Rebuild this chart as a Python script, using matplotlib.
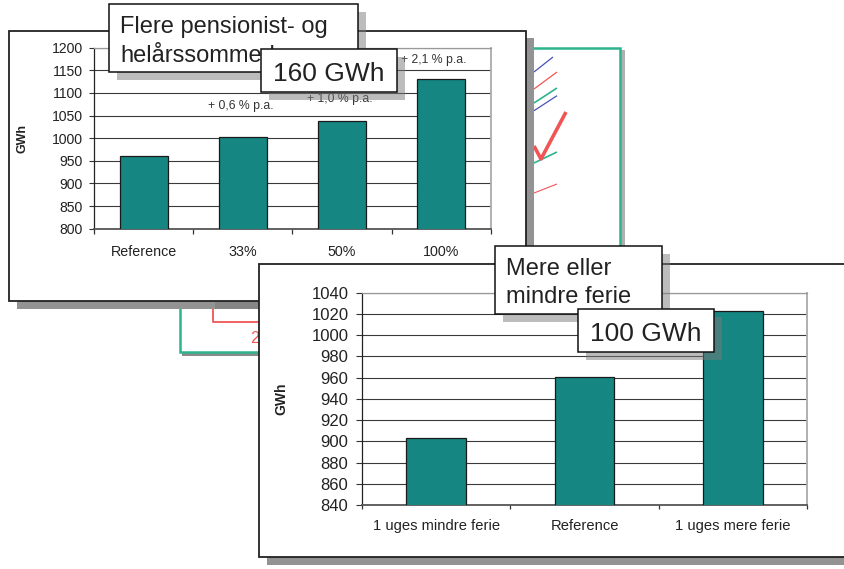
import matplotlib
matplotlib.use('Agg')
import matplotlib.pyplot as plt
from matplotlib.patches import Rectangle

plt.rcParams['font.family'] = ['Liberation Sans', 'DejaVu Sans']

# ---------------- data ----------------
top_categories = ['Reference', '33%', '50%', '100%']
top_values = [961, 1003, 1037, 1131]
top_yticks = [800, 850, 900, 950, 1000, 1050, 1100, 1150, 1200]
top_growth_labels = ['+ 0,6 % p.a.', '+ 1,0 % p.a.', '+ 2,1 % p.a.']
top_title_lines = ['Flere pensionist- og', 'helårssommerhuse']
top_callout = '160 GWh'

bottom_categories = ['1 uges mindre ferie', 'Reference', '1 uges mere ferie']
bottom_values = [903.5, 961, 1022.7]
bottom_yticks = [840, 860, 880, 900, 920, 940, 960, 980, 1000, 1020, 1040]
bottom_title_lines = ['Mere eller', 'mindre ferie']
bottom_callout = '100 GWh'

background_label = '2'

# ---------------- layout / style ----------------
W, H = 845, 569
TEAL = '#168682'
SLIDE_TEAL = '#2db38e'
RED = '#f05555'
BLUE = '#4a52b0'
SHADOW = '#939393'
TXT = '#222222'

fig = plt.figure(figsize=(W / 100, H / 100), dpi=100)


def frac(x0, y0, x1, y1):
    return [x0 / W, 1 - y1 / H, (x1 - x0) / W, (y1 - y0) / H]


def overlay(z):
    ax = fig.add_axes([0, 0, 1, 1], zorder=z)
    ax.set_xlim(0, W)
    ax.set_ylim(H, 0)
    ax.axis('off')
    return ax


def rect(ax, x0, y0, x1, y1, z=1, **kw):
    ax.add_patch(Rectangle((x0, y0), x1 - x0, y1 - y0, zorder=z, **kw))


def callout_box(ax, x0, y0, x1, y1, lines, baselines, xtext, fs, z):
    rect(ax, x0 + 8, y0 + 8, x1 + 8, y1 + 8, z=z, facecolor='#7a7a7a', alpha=0.5,
         edgecolor='none')
    rect(ax, x0, y0, x1, y1, z=z + 0.1, facecolor='white', edgecolor='#111111',
         linewidth=1.1)
    for s, yb in zip(lines, baselines):
        ax.text(xtext, yb, s, fontsize=fs, color=TXT, ha='left', va='baseline',
                zorder=z + 0.2)


# ---------- layer 0: background slide + top chart frame ----------
bg = overlay(0)
rect(bg, 621, 50, 625, 356, facecolor='#b0b0b0', edgecolor='none')
rect(bg, 182, 352, 625, 355.5, facecolor='#8a8a8a', edgecolor='none')
rect(bg, 180, 47.7, 620.5, 351.7, facecolor='white', edgecolor=SLIDE_TEAL, linewidth=1.8)
segs = [((534, 72), (553, 57), BLUE, 0.9),
        ((534, 89), (557, 72), RED, 0.9),
        ((534, 103), (557, 88), SLIDE_TEAL, 1.2),
        ((534, 110.7), (557, 95.7), BLUE, 0.9),
        ((534, 163), (557, 152), SLIDE_TEAL, 1.2),
        ((534, 193), (557, 184), RED, 0.8)]
for (xa, ya), (xb, yb), c, lw in segs:
    bg.plot([xa, xb], [ya, yb], color=c, lw=lw, solid_capstyle='butt', zorder=2)
bg.plot([534, 541, 566], [146, 159, 112], color=RED, lw=2.6, solid_capstyle='butt', zorder=2)
bg.plot([213.3, 213.3, 260], [309, 322.3, 322.3], color=RED, lw=1.3, zorder=2)
bg.text(250, 343.3, background_label, fontsize=11.7, color=RED, ha='left', va='baseline',
        zorder=2)

rect(bg, 17, 38, 534, 309, z=5, facecolor=SHADOW, edgecolor='none')
rect(bg, 215, 300, 260, 308.5, z=5.1, facecolor='#858585', edgecolor='none')
rect(bg, 9.3, 30.5, 525.7, 300.5, z=5.2, facecolor='white', edgecolor='#222222',
     linewidth=1.3)

# ---------- layer 1: top chart ----------
ax1 = fig.add_axes(frac(94.3, 47.7, 490.7, 228.7), zorder=1)
ax1.patch.set_alpha(0)
x1 = list(range(len(top_categories)))
ax1.bar(x1, top_values, width=0.48, color=TEAL, edgecolor='#1a1a1a', linewidth=0.9, zorder=3)
ax1.set_xlim(-0.5, len(top_categories) - 0.5)
ax1.set_ylim(top_yticks[0], top_yticks[-1])
ax1.set_yticks(top_yticks)
ax1.set_yticklabels([str(v) for v in top_yticks], fontsize=10.1, color=TXT)
ax1.yaxis.grid(True, color='#3a3a3a', linewidth=0.8)
ax1.set_axisbelow(True)
ax1.set_xticks(x1)
ax1.set_xticklabels(top_categories, fontsize=10.3, color=TXT)
ax1.set_xticks([i - 0.5 for i in range(len(top_categories) + 1)], minor=True)
ax1.tick_params(axis='x', which='major', length=0, pad=11.5)
ax1.tick_params(axis='x', which='minor', length=3.6, width=0.9, color='#333333', direction='out')
ax1.tick_params(axis='y', length=3.4, width=0.8, pad=5, color='#333333')
ax1.spines['left'].set_color('#222222')
ax1.spines['left'].set_linewidth(0.9)
ax1.spines['bottom'].set_color('#555555')
ax1.spines['bottom'].set_linewidth(1.3)
ax1.spines['right'].set_color('#aaaaaa')
ax1.spines['right'].set_linewidth(1.3)
ax1.spines['top'].set_color('#999999')
ax1.spines['top'].set_linewidth(0.9)
ax1.set_ylabel('GWh', fontsize=9, fontweight='bold', color=TXT)
ax1.yaxis.set_label_coords(-0.165, 0.5)
growth_pos = [(0.98, 1071), (1.98, 1087), (2.93, 1173)]
for s, (gx, gy) in zip(top_growth_labels, growth_pos):
    ax1.text(gx, gy, s, fontsize=8.8, color='#333333', ha='center', va='center', zorder=4)

# ---------- layer 2: top callouts + bottom chart frame ----------
mid = overlay(2)
callout_box(mid, 109.5, 4, 358.5, 72, top_title_lines, [33, 62], 120, 17, z=1)
callout_box(mid, 260.7, 49.3, 396.7, 92.3, [top_callout], [80.7], 273.3, 19, z=2)
rect(mid, 267, 272, 860, 565, z=3, facecolor=SHADOW, edgecolor='none')
rect(mid, 259.5, 264.3, 870, 556.7, z=3.1, facecolor='white', edgecolor='#222222',
     linewidth=1.3)

# ---------- layer 3: bottom chart ----------
ax2 = fig.add_axes(frac(362, 292.7, 807, 505), zorder=3)
ax2.patch.set_alpha(0)
x2 = list(range(len(bottom_categories)))
ax2.bar(x2, bottom_values, width=0.40, color=TEAL, edgecolor='#1a1a1a', linewidth=0.9, zorder=3)
ax2.set_xlim(-0.5, len(bottom_categories) - 0.5)
ax2.set_ylim(bottom_yticks[0], bottom_yticks[-1])
ax2.set_yticks(bottom_yticks)
ax2.set_yticklabels([str(v) for v in bottom_yticks], fontsize=12, color=TXT)
ax2.yaxis.grid(True, color='#3a3a3a', linewidth=0.8)
ax2.set_axisbelow(True)
ax2.set_xticks(x2)
ax2.set_xticklabels(bottom_categories, fontsize=10.6, color=TXT)
ax2.set_xticks([i - 0.5 for i in range(len(bottom_categories) + 1)], minor=True)
ax2.tick_params(axis='x', which='major', length=0, pad=10)
ax2.tick_params(axis='x', which='minor', length=3, width=0.9, color='#333333', direction='out')
ax2.tick_params(axis='y', length=4.3, width=0.8, pad=5.5, color='#333333')
ax2.spines['left'].set_color('#222222')
ax2.spines['left'].set_linewidth(0.9)
ax2.spines['bottom'].set_color('#555555')
ax2.spines['bottom'].set_linewidth(1.3)
ax2.spines['right'].set_color('#aaaaaa')
ax2.spines['right'].set_linewidth(1.3)
ax2.spines['top'].set_color('#999999')
ax2.spines['top'].set_linewidth(0.9)
ax2.set_ylabel('GWh', fontsize=10, fontweight='bold', color=TXT)
ax2.yaxis.set_label_coords(-0.166, 0.5)

# ---------- layer 4: bottom callouts ----------
top = overlay(4)
callout_box(top, 495.5, 246, 662, 313.5, bottom_title_lines, [275, 303.3], 506, 17, z=1)
callout_box(top, 578.3, 309.3, 714.3, 352, [bottom_callout], [340.7], 590, 19, z=2)

fig.savefig('out.png', dpi=100)
